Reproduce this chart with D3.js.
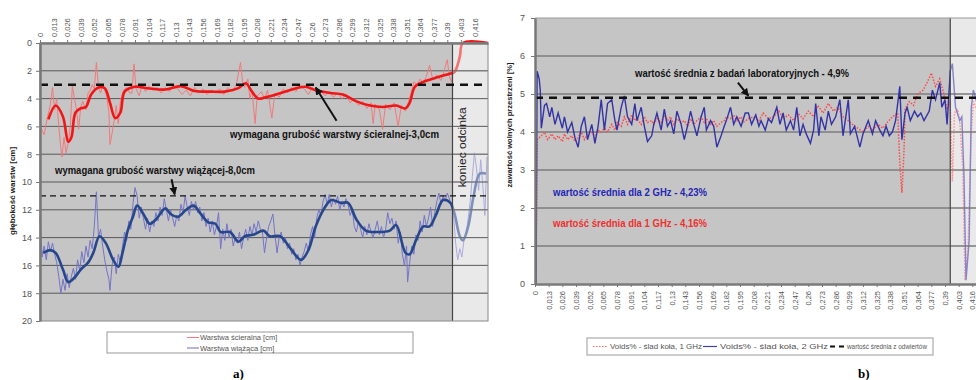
<!DOCTYPE html>
<html>
<head>
<meta charset="utf-8">
<script src="https://cdn.jsdelivr.net/npm/d3@7"></script>
<style>
  body { margin: 0; background: #fff; }
  svg { display: block; font-family: "Liberation Sans", Arial, sans-serif; }
</style>
</head>
<body>
<svg id="chart" width="976" height="380"></svg>
<script>
// --- dane (odległość w metrach, wartość) ---
const tickLabels = ["0","0,013","0,026","0,039","0,052","0,065","0,078","0,091","0,104","0,117","0,13",
  "0,143","0,156","0,169","0,182","0,195","0,208","0,221","0,234","0,247","0,26","0,273","0,286",
  "0,299","0,312","0,325","0,338","0,351","0,364","0,377","0,39","0,403","0,416"];
const depthTicks = [0, 2, 4, 6, 8, 10, 12, 14, 16, 18, 20];
const voidTicks = [0, 1, 2, 3, 4, 5, 6, 7];
const END_M = 395;          // koniec odcinka
const REQ_WEAR = 3.0;       // wymagana grubość warstwy ścieralnej
const REQ_BIND = 11.0;      // 3,0 + 8,0 cm
const LAB_MEAN = 4.9;       // wartość średnia z badań laboratoryjnych

const wearThin = [[0,6.0],[4,6.6],[7,5.4],[10,4.4],[12,3.2],[14,4.8],[16,4.0],[18,6.0],[20,7.6],[21,8.2],
  [23,6.8],[25,7.9],[27,7.2],[29,6.0],[31,3.1],[33,4.0],[35,4.8],[37,6.2],[39,4.6],[41,4.2],[44,4.8],
  [46,3.6],[48,3.4],[50,3.0],[52,3.3],[54,1.4],[56,3.2],[58,3.6],[60,3.0],[62,3.4],[64,3.9],[66,5.0],
  [67,7.3],[69,6.5],[71,5.6],[73,4.5],[75,5.8],[77,4.2],[80,3.4],[83,3.2],[86,3.6],[88,3.6],[90,1.5],
  [92,3.3],[95,3.8],[98,3.0],[101,3.5],[104,3.1],[108,3.4],[112,3.2],[116,3.6],[120,3.2],[124,3.5],
  [128,3.0],[132,3.3],[136,3.7],[140,3.4],[144,3.8],[148,3.2],[152,3.6],[156,3.3],[160,3.7],[164,3.4],
  [168,3.6],[172,3.3],[176,3.7],[180,3.2],[184,3.5],[188,3.0],[192,1.4],[194,2.8],[196,3.2],[199,2.6],
  [201,4.0],[203,3.4],[206,5.8],[208,3.8],[212,3.5],[215,4.0],[218,3.4],[222,5.4],[225,3.6],[229,3.9],
  [233,3.3],[237,3.6],[241,3.2],[245,3.5],[249,3.0],[253,3.3],[257,3.7],[261,3.2],[265,3.6],[269,3.4],
  [273,3.8],[277,3.5],[281,3.9],[285,3.6],[289,4.0],[293,3.7],[297,4.3],[301,4.0],[305,4.5],[309,4.2],
  [313,4.7],[317,4.3],[319,5.8],[321,4.4],[325,4.8],[328,6.2],[331,4.4],[335,4.8],[339,4.3],[343,6.0],
  [346,4.5],[350,4.9],[353,4.2],[356,3.4],[358,2.8],[361,3.0],[364,2.6],[367,2.9],[370,2.4],[373,1.6],
  [376,2.6],[380,2.3],[384,2.7],[387,2.0],[390,1.2],[392,2.4],[394,2.8],[396,2.0],[399,1.6],[402,0.8],
  [404,0],[429,0]];
const wearAvg = [[8,5.5],[15,4.5],[22,5.3],[27,7.1],[30,6.8],[34,5.0],[39,4.7],[44,4.6],[49,3.7],[56,3.2],
  [62,3.25],[67,4.3],[72,5.4],[77,5.0],[81,3.5],[91,3.15],[103,3.25],[120,3.35],[135,3.1],[148,3.45],
  [164,3.5],[177,3.5],[190,3.25],[197,2.9],[203,3.5],[209,4.0],[216,3.9],[226,3.7],[239,3.4],[254,3.15],
  [264,3.4],[278,3.6],[290,3.7],[303,4.2],[316,4.5],[328,4.6],[341,4.5],[350,4.7],[354,4.3],[359,3.15],
  [367,2.8],[379,2.5],[393,2.2],[397,2.1],[402,1.0],[405,0],[429,0]];
const bindThin = [[0,12.6],[2,15.4],[4,14.6],[6,15.6],[8,14.3],[10,15.0],[12,14.4],[14,15.2],[16,15.8],
  [18,16.8],[20,18.0],[22,17.0],[24,17.8],[26,16.6],[28,17.6],[30,16.8],[32,16.2],[34,17.0],[36,15.6],
  [38,16.4],[40,15.0],[42,15.8],[44,14.6],[46,15.4],[48,14.2],[50,14.8],[52,13.2],[54,10.7],[56,14.0],
  [58,13.4],[60,14.6],[62,15.6],[64,16.4],[66,17.0],[67,17.8],[69,16.0],[71,15.4],[73,16.6],[75,15.2],
  [77,15.8],[79,14.6],[81,13.6],[83,14.2],[85,12.8],[87,13.4],[89,11.6],[91,10.4],[93,11.0],[95,12.6],
  [97,11.8],[99,12.6],[101,13.4],[103,12.6],[105,13.6],[107,12.8],[109,13.2],[111,12.2],[113,12.8],
  [115,11.8],[117,12.4],[119,11.2],[121,12.0],[123,12.8],[125,12.0],[127,12.6],[129,13.2],[131,12.4],
  [133,12.8],[135,11.6],[137,12.2],[139,11.0],[141,11.8],[143,12.4],[145,11.4],[147,12.0],[149,11.4],
  [151,12.2],[153,11.8],[155,12.8],[157,12.2],[159,13.2],[161,12.6],[163,13.6],[165,12.8],[167,13.8],
  [169,13.2],[171,12.2],[173,14.8],[175,13.4],[177,14.2],[179,13.0],[181,14.0],[183,13.4],[185,14.6],
  [187,14.0],[189,14.4],[191,13.6],[193,14.8],[195,14.0],[197,13.4],[199,14.2],[201,13.2],[203,13.8],
  [205,13.0],[207,13.6],[209,12.8],[211,13.4],[213,13.6],[215,15.1],[217,14.0],[219,13.2],[221,12.8],
  [223,12.3],[225,13.8],[227,15.1],[229,14.0],[231,13.6],[233,14.4],[235,14.0],[237,14.8],[239,14.4],
  [241,15.2],[243,14.8],[245,15.6],[247,15.2],[249,16.0],[251,15.4],[253,15.0],[255,14.4],[257,15.0],
  [259,13.8],[261,13.2],[263,14.0],[265,12.6],[267,12.0],[269,12.4],[271,11.4],[273,10.9],[275,11.6],
  [277,10.9],[279,11.8],[281,11.2],[283,11.6],[285,11.0],[287,12.0],[289,11.4],[291,11.8],[293,11.2],
  [295,11.6],[297,12.4],[299,12.0],[301,13.2],[303,13.6],[305,12.8],[307,13.4],[309,14.0],[311,13.2],
  [313,13.8],[315,13.0],[317,13.6],[319,14.0],[321,13.4],[323,12.8],[325,13.8],[327,13.2],[329,14.0],
  [331,13.4],[333,12.2],[335,13.0],[337,12.6],[339,13.4],[341,12.8],[343,14.4],[345,13.6],[347,15.2],
  [349,16.0],[351,14.6],[352,17.2],[354,15.8],[356,14.6],[358,15.2],[360,13.8],[362,14.2],[364,12.8],
  [366,13.6],[368,12.4],[370,13.2],[372,12.6],[374,11.8],[376,13.2],[378,12.2],[380,11.4],[382,10.8],
  [384,11.6],[386,11.0],[388,11.4],[390,10.8],[392,11.2],[394,11.8],[396,12.4],[398,14.4],[400,15.6],
  [402,14.8],[404,15.4],[406,14.2],[408,13.8],[410,12.6],[412,11.4],[414,9.6],[416,7.9],[418,9.0],
  [420,10.6],[422,8.4],[424,10.2],[426,12.4],[428,8.2]];
const bindAvg = [[3,15.1],[10,14.9],[15,15.1],[22,16.3],[27,17.2],[34,16.8],[39,16.3],[46,15.8],[51,15.1],
  [57,13.9],[63,14.4],[70,15.6],[75,16.1],[79,15.1],[84,13.5],[89,12.5],[93,11.7],[99,12.3],[105,13.0],
  [111,12.7],[120,11.9],[125,12.3],[132,12.5],[140,12.0],[147,11.7],[154,12.3],[161,12.9],[168,13.0],
  [173,13.6],[182,13.6],[190,14.3],[196,13.9],[204,13.8],[214,13.5],[220,13.9],[230,13.9],[239,14.7],
  [250,15.6],[257,14.9],[264,13.2],[273,11.8],[279,11.3],[288,11.5],[295,11.5],[303,12.7],[312,13.5],
  [324,13.6],[335,13.5],[341,13.1],[350,15.1],[354,15.2],[360,14.2],[367,13.2],[373,13.2],[379,12.4],
  [386,11.3],[393,11.5],[397,12.3],[402,13.9],[405,14.2],[410,13.2],[415,11.1],[421,9.4],[427,9.4]];

const voids2GHz = [[1,0.0],[2,5.6],[4,5.4],[5,5.1],[6,4.1],[9,4.7],[11,4.75],[14,4.4],[16,4.65],[19,4.2],
  [22,4.5],[26,4.1],[28,4.4],[31,4.0],[35,4.25],[38,3.85],[41,3.6],[44,4.15],[47,4.4],[50,3.8],[54,4.2],
  [57,3.7],[60,4.15],[63,4.85],[66,4.05],[69,4.75],[73,4.85],[76,4.3],[78,4.05],[82,4.65],[85,4.95],
  [88,4.4],[92,4.2],[95,4.75],[97,4.3],[101,4.65],[104,4.15],[107,3.75],[111,3.9],[113,4.2],[116,4.5],
  [120,4.05],[123,4.6],[126,4.15],[129,4.3],[132,3.95],[135,4.55],[139,4.2],[142,3.8],[145,4.15],
  [148,4.55],[151,4.2],[154,3.9],[158,4.4],[161,4.65],[163,4.05],[167,4.3],[170,4.15],[173,3.6],[177,3.9],
  [180,4.15],[182,4.3],[186,4.65],[189,4.2],[192,4.4],[196,4.15],[200,4.5],[203,4.5],[206,4.2],[210,4.45],
  [213,4.15],[215,4.3],[219,4.05],[222,4.35],[225,4.25],[230,4.65],[233,4.2],[236,4.5],[239,4.05],
  [243,4.3],[246,4.05],[249,4.65],[252,3.9],[255,4.2],[258,3.95],[262,3.7],[265,4.05],[267,4.75],[270,3.9],
  [272,4.4],[276,4.05],[279,4.55],[282,4.2],[286,4.4],[290,4.85],[293,3.9],[298,4.85],[300,3.95],
  [304,4.15],[309,3.6],[312,3.95],[317,4.3],[321,3.95],[324,4.3],[328,4.05],[331,3.9],[334,4.15],[337,3.9],
  [340,4.0],[343,4.3],[347,5.2],[349,3.8],[352,4.5],[354,4.65],[357,4.3],[361,4.55],[364,4.4],[367,4.5],
  [370,4.3],[375,4.55],[378,5.1],[381,4.85],[385,5.3],[387,4.65],[390,4.85],[392,4.2],[395,5.6],[397,5.8],
  [400,4.65],[404,4.3],[406,4.4],[408,2.9],[410,0.1],[413,1.15],[415,4.65],[417,5.1],[420,4.8],[425,4.5]];
const voids1GHz = [[1,0.0],[2,3.8],[6,3.9],[9,4.0],[12,3.8],[16,3.95],[19,3.8],[22,3.9],[26,3.75],[28,3.95],
  [31,3.8],[35,3.9],[38,3.75],[41,3.85],[44,4.0],[47,3.8],[50,3.95],[54,4.0],[57,3.85],[60,4.05],[63,4.0],
  [66,4.1],[69,4.0],[73,4.2],[76,4.05],[78,4.25],[82,4.15],[85,4.4],[88,4.2],[92,4.45],[95,4.3],[97,4.35],
  [101,4.2],[104,4.4],[107,4.25],[111,4.3],[113,4.2],[116,4.35],[120,4.25],[123,4.45],[126,4.3],[129,4.4],
  [132,4.2],[135,4.35],[139,4.25],[142,4.3],[145,4.15],[148,4.35],[151,4.2],[154,4.3],[158,4.4],[161,4.25],
  [163,4.35],[167,4.2],[170,4.3],[173,4.15],[177,4.25],[180,4.3],[182,4.4],[186,4.35],[189,4.45],[192,4.3],
  [196,4.4],[198,4.25],[203,4.35],[208,4.4],[213,4.3],[217,4.5],[222,4.35],[227,4.4],[232,4.55],[236,4.35],
  [241,4.45],[246,4.3],[250,4.5],[255,4.35],[260,4.55],[265,4.4],[269,4.7],[274,4.5],[279,4.75],[284,4.55],
  [288,4.65],[293,4.4],[298,4.3],[302,4.2],[307,4.1],[312,4.0],[317,4.15],[321,4.05],[326,4.2],[331,4.1],
  [335,4.25],[340,4.4],[345,4.5],[347,3.2],[349,2.4],[351,3.5],[352,4.6],[356,4.8],[360,4.7],[364,5.0],
  [369,5.1],[373,5.3],[377,5.55],[381,5.2],[385,5.4],[388,5.1],[392,4.6],[395,4.8],[397,2.7],[399,4.5],
  [402,4.6],[404,4.3],[407,3.0],[409,0.1],[412,1.0],[415,4.0],[417,4.8],[420,4.6],[425,4.4]];

// --- ustawienia ---
const svg = d3.select("#chart");
const GRID = "#585858", BG = "#c5c5c5", BG_END = "#dadada", TICK_TXT = "#555";
const toM = s => +s.replace(",", ".") * 1000;

svg.append("defs").append("marker")
  .attr("id", "arrow").attr("viewBox", "0 0 10 10").attr("refX", 9).attr("refY", 5)
  .attr("markerWidth", 4).attr("markerHeight", 4).attr("orient", "auto-start-reverse")
  .append("path").attr("d", "M0,0 L10,5 L0,10 z").attr("fill", "#111");

function addLabel(g, txt, x, y, len, opts = {}) {
  return g.append("text").attr("x", x).attr("y", y).text(txt)
    .attr("font-size", opts.size || 10.5).attr("font-weight", opts.weight || "bold")
    .attr("fill", opts.fill || "#111")
    .attr("textLength", len).attr("lengthAdjust", "spacingAndGlyphs");
}

// ================= wykres a) =================
const xa = d3.scaleLinear([0, 429], [40, 488]);
const ya = d3.scaleLinear([0, 20], [43, 321]);
const ga = svg.append("g");

ga.append("rect").attr("x", xa(0)).attr("y", ya(0)).attr("width", xa(END_M) - xa(0))
  .attr("height", ya(20) - ya(0)).attr("fill", BG);
ga.append("rect").attr("x", xa(END_M)).attr("y", ya(0)).attr("width", xa(429) - xa(END_M))
  .attr("height", ya(20) - ya(0)).attr("fill", BG_END);

ga.append("g").selectAll("line").data(depthTicks.slice(1, -1)).join("line")
  .attr("x1", xa(0)).attr("x2", xa(429)).attr("y1", d => ya(d)).attr("y2", d => ya(d))
  .attr("stroke", GRID).attr("stroke-width", 1);

const lineA = d3.line().x(d => xa(d[0])).y(d => ya(d[1]));
const smoothA = d3.line().x(d => xa(d[0])).y(d => ya(d[1])).curve(d3.curveCatmullRom.alpha(0.5));

ga.append("path").datum(bindThin).attr("d", lineA).attr("fill", "none")
  .attr("stroke", "#7474c8").attr("stroke-width", 1);
ga.append("path").datum(wearThin).attr("d", lineA).attr("fill", "none")
  .attr("stroke", "#f07a7a").attr("stroke-width", 1);
ga.append("path").datum(bindAvg).attr("d", smoothA).attr("fill", "none")
  .attr("stroke", "#27478c").attr("stroke-width", 2.6);
ga.append("path").datum(wearAvg).attr("d", smoothA).attr("fill", "none")
  .attr("stroke", "#f21515").attr("stroke-width", 2.6);

// rozjaśnienie końca odcinka
ga.append("rect").attr("x", xa(END_M)).attr("y", ya(0)).attr("width", xa(429) - xa(END_M))
  .attr("height", ya(20) - ya(0)).attr("fill", "#fff").attr("opacity", 0.4);
ga.append("g").selectAll("line").data(depthTicks.slice(1, -1)).join("line")
  .attr("x1", xa(END_M)).attr("x2", xa(429)).attr("y1", d => ya(d)).attr("y2", d => ya(d))
  .attr("stroke", "#6a6a6a").attr("stroke-width", 1);
ga.append("line").attr("x1", xa(END_M)).attr("x2", xa(END_M)).attr("y1", ya(0)).attr("y2", ya(20))
  .attr("stroke", "#444").attr("stroke-width", 1.2);
ga.append("rect").attr("x", xa(0)).attr("y", ya(0)).attr("width", xa(429) - xa(0))
  .attr("height", ya(20) - ya(0)).attr("fill", "none").attr("stroke", "#888");

// linie wymagane
ga.append("line").attr("x1", xa(0)).attr("x2", xa(429)).attr("y1", ya(REQ_WEAR)).attr("y2", ya(REQ_WEAR))
  .attr("stroke", "#111").attr("stroke-width", 2.4).attr("stroke-dasharray", "8,6");
ga.append("line").attr("x1", xa(0)).attr("x2", xa(429)).attr("y1", ya(REQ_BIND)).attr("y2", ya(REQ_BIND))
  .attr("stroke", "#111").attr("stroke-width", 1.3).attr("stroke-dasharray", "6,4");

// osie
ga.append("g").attr("transform", `translate(${xa(0)},0)`)
  .call(d3.axisLeft(ya).tickValues(depthTicks).tickFormat(d3.format("d"))
    .tickSize(4).tickSizeOuter(0).tickPadding(4))
  .call(g => g.select(".domain").attr("stroke", "#777").attr("stroke-width", 2.5))
  .call(g => g.selectAll(".tick line").attr("stroke", "#777"))
  .call(g => g.selectAll("text").attr("fill", TICK_TXT).attr("font-size", 9)
    .attr("font-family", "Liberation Sans, Arial, sans-serif"));

ga.append("g").attr("transform", `translate(0,${ya(0)})`)
  .call(d3.axisTop(xa).tickValues(tickLabels.map(toM)).tickFormat((d, i) => tickLabels[i])
    .tickSize(3).tickSizeOuter(0))
  .call(g => g.select(".domain").attr("stroke", "#7a7a7a").attr("stroke-width", 2.5))
  .call(g => g.selectAll(".tick line").attr("stroke", "#777"))
  .call(g => g.selectAll("text").attr("transform", "rotate(-90)").attr("x", 6).attr("y", 0)
    .attr("dy", "0.35em").attr("text-anchor", "start").attr("fill", TICK_TXT).attr("font-size", 7.5)
    .attr("font-family", "Liberation Sans, Arial, sans-serif"));

svg.append("text").attr("transform", `translate(15,${(ya(6) + ya(16)) / 2 - 5}) rotate(-90)`)
  .attr("text-anchor", "middle").attr("font-size", 8).attr("font-weight", "bold").attr("fill", "#222")
  .text("głębokość warstw [cm]");

// adnotacje
addLabel(ga, "wymagana grubość warstwy ścieralnej-3,0cm", 230, 138, 209);
addLabel(ga, "wymagana grubość warstwy wiążącej-8,0cm", 55, 174, 200);
ga.append("line").attr("x1", xa(284)).attr("y1", ya(5.6)).attr("x2", xa(264)).attr("y2", ya(3.2))
  .attr("stroke", "#111").attr("stroke-width", 2).attr("marker-end", "url(#arrow)");
ga.append("line").attr("x1", xa(126)).attr("y1", ya(9.8)).attr("x2", xa(129)).attr("y2", ya(10.9))
  .attr("stroke", "#111").attr("stroke-width", 2).attr("marker-end", "url(#arrow)");
ga.append("text").attr("transform", `translate(${xa(END_M) + 14},${ya(7.5)}) rotate(-90)`)
  .attr("text-anchor", "middle").attr("font-size", 10.5).attr("fill", "#222")
  .attr("textLength", 80).attr("lengthAdjust", "spacingAndGlyphs").text("koniec odcinka");

// legenda a)
const la = svg.append("g");
la.append("rect").attr("x", 107).attr("y", 332).attr("width", 306).attr("height", 21)
  .attr("fill", "#fff").attr("stroke", "#999");
[["Warstwa ścieralna [cm]", "#f07a7a", 337.5], ["Warstwa wiążąca [cm]", "#6a6ac0", 348]].forEach(([t, c, y]) => {
  la.append("line").attr("x1", 187).attr("x2", 199).attr("y1", y).attr("y2", y).attr("stroke", c);
  la.append("text").attr("x", 200).attr("y", y + 2.5).attr("font-size", 7.5).attr("fill", "#555").text(t);
});
svg.append("text").attr("x", 233).attr("y", 378).attr("font-family", "Liberation Serif, serif")
  .attr("font-size", 13).attr("font-weight", "bold").text("a)");

// ================= wykres b) =================
const xb = d3.scaleLinear([0, 429], [535, 986]);
const yb = d3.scaleLinear([0, 7], [284, 18]);
const gb = svg.append("g");

gb.append("rect").attr("x", xb(0)).attr("y", yb(7)).attr("width", xb(END_M) - xb(0))
  .attr("height", yb(0) - yb(7)).attr("fill", BG);
gb.append("rect").attr("x", xb(END_M)).attr("y", yb(7)).attr("width", xb(429) - xb(END_M))
  .attr("height", yb(0) - yb(7)).attr("fill", BG_END);
gb.append("g").selectAll("line").data(voidTicks.slice(1, -1)).join("line")
  .attr("x1", xb(0)).attr("x2", xb(429)).attr("y1", d => yb(d)).attr("y2", d => yb(d))
  .attr("stroke", GRID).attr("stroke-width", 1);

const lineB = d3.line().x(d => xb(d[0])).y(d => yb(d[1]));
gb.append("path").datum(voids1GHz).attr("d", lineB).attr("fill", "none")
  .attr("stroke", "#ff4a4a").attr("stroke-width", 1.5).attr("stroke-dasharray", "1.5,1.5");
gb.append("path").datum(voids2GHz).attr("d", lineB).attr("fill", "none")
  .attr("stroke", "#3333a6").attr("stroke-width", 1.4);

gb.append("rect").attr("x", xb(END_M)).attr("y", yb(7)).attr("width", xb(429) - xb(END_M))
  .attr("height", yb(0) - yb(7)).attr("fill", "#fff").attr("opacity", 0.4);
gb.append("g").selectAll("line").data(voidTicks.slice(1, -1)).join("line")
  .attr("x1", xb(END_M)).attr("x2", xb(429)).attr("y1", d => yb(d)).attr("y2", d => yb(d))
  .attr("stroke", "#6a6a6a").attr("stroke-width", 1);
gb.append("line").attr("x1", xb(END_M)).attr("x2", xb(END_M)).attr("y1", yb(7)).attr("y2", yb(0))
  .attr("stroke", "#444").attr("stroke-width", 1.2);
gb.append("line").attr("x1", xb(0)).attr("x2", xb(429)).attr("y1", yb(7)).attr("y2", yb(7))
  .attr("stroke", "#999");

gb.append("line").attr("x1", xb(0)).attr("x2", xb(429)).attr("y1", yb(LAB_MEAN)).attr("y2", yb(LAB_MEAN))
  .attr("stroke", "#111").attr("stroke-width", 2.6).attr("stroke-dasharray", "8,6");

gb.append("g").attr("transform", `translate(${xb(0)},0)`)
  .call(d3.axisLeft(yb).tickValues(voidTicks).tickFormat(d3.format("d"))
    .tickSize(4).tickSizeOuter(0).tickPadding(6))
  .call(g => g.select(".domain").attr("stroke", "#777").attr("stroke-width", 2.5))
  .call(g => g.selectAll(".tick line").attr("stroke", "#777"))
  .call(g => g.selectAll("text").attr("fill", TICK_TXT).attr("font-size", 9)
    .attr("font-family", "Liberation Sans, Arial, sans-serif"));

gb.append("g").attr("transform", `translate(0,${yb(0)})`)
  .call(d3.axisBottom(xb).tickValues(tickLabels.map(toM)).tickFormat((d, i) => tickLabels[i])
    .tickSize(3).tickSizeOuter(0))
  .call(g => g.select(".domain").attr("stroke", "#7a7a7a").attr("stroke-width", 2.5))
  .call(g => g.selectAll(".tick line").attr("stroke", "#777"))
  .call(g => g.selectAll("text").attr("transform", "rotate(-90)").attr("x", -7).attr("y", 0)
    .attr("dy", "0.35em").attr("text-anchor", "end").attr("fill", TICK_TXT).attr("font-size", 7.5)
    .attr("font-family", "Liberation Sans, Arial, sans-serif"));

svg.append("text").attr("transform", `translate(512,125) rotate(-90)`)
  .attr("text-anchor", "middle").attr("font-size", 7.5).attr("font-weight", "bold").attr("fill", "#222")
  .attr("textLength", 125).attr("lengthAdjust", "spacingAndGlyphs")
  .text("zawartość wolnych przestrzeni [%]");

addLabel(gb, "wartość średnia z badań laboratoryjnych - 4,9%", 635, 77, 214, { size: 10 });
gb.append("line").attr("x1", xb(193)).attr("y1", yb(5.3)).attr("x2", xb(203)).attr("y2", yb(4.95))
  .attr("stroke", "#111").attr("stroke-width", 2).attr("marker-end", "url(#arrow)");
addLabel(gb, "wartość średnia dla 2 GHz - 4,23%", 553, 196, 154, { size: 10, fill: "#2626b4" });
addLabel(gb, "wartość średnia dla 1 GHz - 4,16%", 553, 227, 154, { size: 10, fill: "#ee3030" });

// legenda b)
const lb = svg.append("g");
lb.append("rect").attr("x", 587).attr("y", 338).attr("width", 346).attr("height", 17)
  .attr("fill", "#fff").attr("stroke", "#999");
[["Voids% - ślad koła, 1 GHz", "#ff6a6a", "1.5,1.5", 593, 92],
 ["Voids% - ślad koła, 2 GHz", "#4040a8", null, 703, 108],
 ["wartość średnia z odwiertów", "#111", "5,4", 830, 80]].forEach(([t, c, dash, x, len]) => {
  lb.append("line").attr("x1", x).attr("x2", x + 14).attr("y1", 346.5).attr("y2", 346.5)
    .attr("stroke", c).attr("stroke-width", dash === "5,4" ? 2 : 1.2).attr("stroke-dasharray", dash);
  lb.append("text").attr("x", x + 17).attr("y", 349).attr("font-size", 7.5).attr("fill", "#555")
    .attr("textLength", len).attr("lengthAdjust", "spacingAndGlyphs").text(t);
});
svg.append("text").attr("x", 858).attr("y", 378).attr("font-family", "Liberation Serif, serif")
  .attr("font-size", 13).attr("font-weight", "bold").text("b)");
</script>
</body>
</html>
